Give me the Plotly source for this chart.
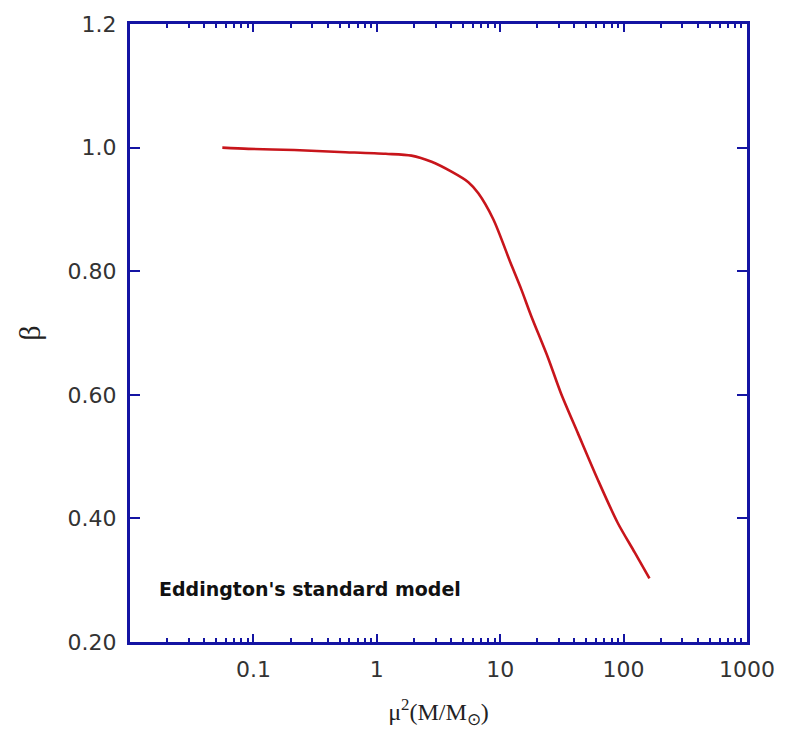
import plotly.graph_objects as go

# data (mass parameter mu^2 M/Msun vs beta)
mass_param = [0.056, 0.091, 0.214, 0.50, 1.18, 1.91, 2.78, 4.03, 5.52, 6.65, 8.79,
              12.1, 14.8, 17.8, 24.4, 31.0, 42.6, 61.7, 89.5, 123, 162]
beta = [1.000, 0.998, 0.996, 0.993, 0.990, 0.987, 0.977, 0.961, 0.944, 0.926, 0.884,
        0.814, 0.771, 0.728, 0.660, 0.603, 0.538, 0.463, 0.393, 0.345, 0.303]

x_tickvals = [0.1, 1, 10, 100, 1000]
x_ticktext = ["0.1", "1", "10", "100", "1000"]
y_tickvals = [0.2, 0.4, 0.6, 0.8, 1.0, 1.2]
y_ticktext = ["0.20", "0.40", "0.60", "0.80", "1.0", "1.2"]

AXIS = "#1414a3"
fig = go.Figure()
fig.add_trace(go.Scatter(x=mass_param, y=beta, mode="lines",
                         line=dict(color="#c8151b", width=2.6, shape="spline", smoothing=0.8),
                         showlegend=False, hoverinfo="skip"))

fig.update_layout(
    width=787, height=740,
    margin=dict(l=130, r=37, t=23, b=98),
    paper_bgcolor="white", plot_bgcolor="white",
    font=dict(family="DejaVu Sans", color="#333333", size=22),
)
fig.update_xaxes(type="log", range=[-2, 3], showgrid=False, zeroline=False,
                 showline=True, linecolor=AXIS, linewidth=3, mirror="ticks",
                 ticks="inside", ticklen=8, tickwidth=2, tickcolor=AXIS,
                 tickvals=x_tickvals, ticktext=x_ticktext,
                 tickfont=dict(family="DejaVu Sans", size=22, color="#333333"),
                 ticklabelstandoff=6,
                 minor=dict(ticks="inside", ticklen=4, tickwidth=2, tickcolor=AXIS,
                            dtick="D1", showgrid=False),
                 title=dict(text="μ<sup>2</sup>(M/M<sub>⊙</sub>)",
                            font=dict(family="Liberation Serif", size=24, color="#222222"),
                            standoff=22))
fig.update_yaxes(range=[0.2, 1.2], showgrid=False, zeroline=False,
                 showline=True, linecolor=AXIS, linewidth=3, mirror="ticks",
                 ticks="inside", ticklen=10, tickwidth=2, tickcolor=AXIS,
                 tickvals=y_tickvals, ticktext=y_ticktext,
                 tickfont=dict(family="DejaVu Sans", size=22, color="#333333"),
                 ticklabelstandoff=6,
                 title=dict(text="β", font=dict(family="Liberation Serif", size=30, color="#222222"),
                            standoff=19))

fig.add_annotation(text="<b>Eddington's standard model</b>", xref="paper", yref="paper",
                   x=0.043, y=0.085, xanchor="left", yanchor="middle", showarrow=False,
                   font=dict(family="DejaVu Sans", size=19, color="#111111"))

fig.write_html("out.html")
